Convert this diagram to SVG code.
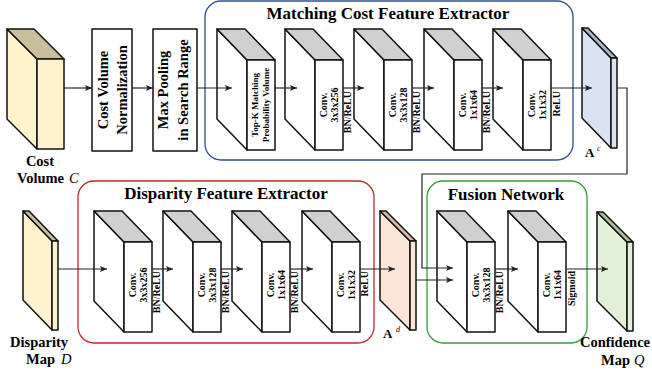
<svg xmlns="http://www.w3.org/2000/svg" width="652" height="375" viewBox="0 0 652 375">
<style>
.blk path,.blk rect{stroke:#111;stroke-width:1.5;stroke-linejoin:round}
.side{fill:#fff}.top{fill:#d0d0d0}.front{fill:#fff}
.t{font-family:"Liberation Serif",serif;font-weight:bold;fill:#000}
.s10{font-size:10px}.s9{font-size:9px}
.lbl{font-size:14.5px}
.ttl{font-size:17px;text-anchor:middle}
.con{fill:none;stroke:#222;stroke-width:1.2}
.frame{fill:none;stroke-width:1.3}
.it{font-style:italic;font-weight:normal}
</style>
<defs>
<marker id="ah" markerUnits="userSpaceOnUse" markerWidth="8" markerHeight="8" refX="7" refY="3" orient="auto">
<path d="M0,0 L7,3 L0,6 L1.5,3 Z" fill="#222"/>
</marker>
</defs>

<!-- frames -->
<g id="frames">
<rect class="frame" x="205" y="1" width="368" height="159" rx="16" stroke="#2F4F8F"/>
<rect class="frame" x="78" y="181" width="296" height="162" rx="16" stroke="#C0282D"/>
<rect class="frame" x="427" y="181" width="160" height="162" rx="16" stroke="#3A9A3A"/>
<text class="t ttl" x="388" y="19">Matching Cost Feature Extractor</text>
<text class="t ttl" x="226" y="199">Disparity Feature Extractor</text>
<text class="t ttl" x="506" y="200">Fusion Network</text>
</g>

<!-- cost volume -->
<g id="costVolume" class="blk">
<path d="M7,29 L37,59 L37,149 L7,119 Z" fill="#FFF2CC"/>
<path d="M7,29 L34,29 L64,59 L37,59 Z" fill="#CBBF9B"/>
<rect x="37" y="59" width="27" height="90" fill="#FFF2CC"/>
<text class="t lbl" x="40" y="166" text-anchor="middle" stroke="none">Cost</text>
<text class="t lbl" x="17" y="183" stroke="none">Volume <tspan class="it" x="69">C</tspan></text>
</g>

<g id="normalization" class="blk">
<rect x="92" y="29" width="40" height="122" fill="#fff"/>
<text class="t" font-size="14.5" text-anchor="middle" transform="translate(108,90) rotate(-90)" stroke="none">Cost Volume</text>
<text class="t" font-size="14.5" text-anchor="middle" transform="translate(127,90) rotate(-90)" stroke="none">Normalization</text>
</g>

<g id="maxPooling" class="blk">
<rect x="153" y="29" width="44" height="122" fill="#fff"/>
<text class="t" font-size="14.5" text-anchor="middle" transform="translate(168,90) rotate(-90)" stroke="none">Max Pooling</text>
<text class="t" font-size="14.5" text-anchor="middle" transform="translate(188,90) rotate(-90)" stroke="none">in Search Range</text>
</g>

<!-- matching cost blocks -->
<g id="topK" class="blk">
<path class="side" d="M217,29 L247,60 L247,150 L217,119 Z"/>
<path class="top" d="M217,29 L245,29 L275,60 L247,60 Z"/>
<rect class="front" x="247" y="60" width="28" height="90"/>
<text class="t s9" text-anchor="middle" transform="translate(258,105) rotate(-90)" stroke="none">Top-K Matching</text>
<text class="t s9" text-anchor="middle" transform="translate(269,105) rotate(-90)" stroke="none">Probability Volume</text>
</g>
<g id="mc1" class="blk">
<path class="side" d="M285,29 L315,60 L315,150 L285,119 Z"/>
<path class="top" d="M285,29 L313,29 L343,60 L315,60 Z"/>
<rect class="front" x="315" y="60" width="28" height="90"/>
<text class="t s10" text-anchor="middle" transform="translate(327,105) rotate(-90)" stroke="none">Conv.</text>
<text class="t s10" text-anchor="middle" transform="translate(338,105) rotate(-90)" stroke="none">3x3x256</text>
<text class="t s10" text-anchor="end" transform="translate(351,91) rotate(-90)" stroke="none">BN/ReLU</text>
</g>
<g id="mc2" class="blk">
<path class="side" d="M354,29 L384,60 L384,150 L354,119 Z"/>
<path class="top" d="M354,29 L382,29 L412,60 L384,60 Z"/>
<rect class="front" x="384" y="60" width="28" height="90"/>
<text class="t s10" text-anchor="middle" transform="translate(396,105) rotate(-90)" stroke="none">Conv.</text>
<text class="t s10" text-anchor="middle" transform="translate(407,105) rotate(-90)" stroke="none">3x3x128</text>
<text class="t s10" text-anchor="end" transform="translate(420,91) rotate(-90)" stroke="none">BN/ReLU</text>
</g>
<g id="mc3" class="blk">
<path class="side" d="M424,29 L454,60 L454,150 L424,119 Z"/>
<path class="top" d="M424,29 L452,29 L482,60 L454,60 Z"/>
<rect class="front" x="454" y="60" width="28" height="90"/>
<text class="t s10" text-anchor="middle" transform="translate(466,105) rotate(-90)" stroke="none">Conv.</text>
<text class="t s10" text-anchor="middle" transform="translate(477,105) rotate(-90)" stroke="none">1x1x64</text>
<text class="t s10" text-anchor="end" transform="translate(490,91) rotate(-90)" stroke="none">BN/ReLU</text>
</g>
<g id="mc4" class="blk">
<path class="side" d="M493,29 L523,60 L523,150 L493,119 Z"/>
<path class="top" d="M493,29 L521,29 L551,60 L523,60 Z"/>
<rect class="front" x="523" y="60" width="28" height="90"/>
<text class="t s10" text-anchor="middle" transform="translate(535,105) rotate(-90)" stroke="none">Conv.</text>
<text class="t s10" text-anchor="middle" transform="translate(546,105) rotate(-90)" stroke="none">1x1x32</text>
<text class="t s10" text-anchor="end" transform="translate(560,91) rotate(-90)" stroke="none">ReLU</text>
</g>

<g id="Ac" class="blk">
<path d="M582,28 L611,58 L611,148 L582,118 Z" fill="#DAE3F3"/>
<path d="M582,28 L588,28 L617,58 L611,58 Z" fill="#A9B6CB"/>
<rect x="611" y="58" width="6" height="90" fill="#DAE3F3"/>
<text class="t" font-size="13" x="585" y="157" stroke="none">A</text>
<text class="t it" font-size="8" x="597" y="151" stroke="none">c</text>
</g>

<!-- disparity -->
<g id="dispMap" class="blk">
<path d="M23,211 L52,241 L52,330 L23,300 Z" fill="#FFF2CC"/>
<path d="M23,211 L29,211 L58,241 L52,241 Z" fill="#CBBF9B"/>
<rect x="52" y="241" width="6" height="89" fill="#FFF2CC"/>
<text class="t lbl" x="39" y="347" text-anchor="middle" stroke="none">Disparity</text>
<text class="t lbl" x="26" y="364" stroke="none">Map <tspan class="it" x="61">D</tspan></text>
</g>
<g id="d0" class="blk">
<path class="side" d="M94,211 L124,242 L124,332 L94,301 Z"/>
<path class="top" d="M94,211 L122,211 L152,242 L124,242 Z"/>
<rect class="front" x="124" y="242" width="28" height="90"/>
<text class="t s10" text-anchor="middle" transform="translate(136,285) rotate(-90)" stroke="none">Conv.</text>
<text class="t s10" text-anchor="middle" transform="translate(147,285) rotate(-90)" stroke="none">3x3x256</text>
<text class="t s10" text-anchor="end" transform="translate(160,271) rotate(-90)" stroke="none">BN/ReLU</text>
</g>
<g id="d1" class="blk">
<path class="side" d="M163,211 L193,242 L193,332 L163,301 Z"/>
<path class="top" d="M163,211 L191,211 L221,242 L193,242 Z"/>
<rect class="front" x="193" y="242" width="28" height="90"/>
<text class="t s10" text-anchor="middle" transform="translate(205,285) rotate(-90)" stroke="none">Conv.</text>
<text class="t s10" text-anchor="middle" transform="translate(216,285) rotate(-90)" stroke="none">3x3x128</text>
<text class="t s10" text-anchor="end" transform="translate(229,271) rotate(-90)" stroke="none">BN/ReLU</text>
</g>
<g id="d2" class="blk">
<path class="side" d="M232,211 L262,242 L262,332 L232,301 Z"/>
<path class="top" d="M232,211 L260,211 L290,242 L262,242 Z"/>
<rect class="front" x="262" y="242" width="28" height="90"/>
<text class="t s10" text-anchor="middle" transform="translate(274,285) rotate(-90)" stroke="none">Conv.</text>
<text class="t s10" text-anchor="middle" transform="translate(285,285) rotate(-90)" stroke="none">1x1x64</text>
<text class="t s10" text-anchor="end" transform="translate(298,271) rotate(-90)" stroke="none">BN/ReLU</text>
</g>
<g id="d3" class="blk">
<path class="side" d="M302,211 L332,242 L332,332 L302,301 Z"/>
<path class="top" d="M302,211 L330,211 L360,242 L332,242 Z"/>
<rect class="front" x="332" y="242" width="28" height="90"/>
<text class="t s10" text-anchor="middle" transform="translate(344,285) rotate(-90)" stroke="none">Conv.</text>
<text class="t s10" text-anchor="middle" transform="translate(355,285) rotate(-90)" stroke="none">1x1x32</text>
<text class="t s10" text-anchor="end" transform="translate(368,271) rotate(-90)" stroke="none">ReLU</text>
</g>
<g id="Ad" class="blk">
<path d="M380,211 L410,241 L410,330 L380,300 Z" fill="#FBE5D6"/>
<path d="M380,211 L386,211 L416,241 L410,241 Z" fill="#D9B9A8"/>
<rect x="410" y="241" width="6" height="89" fill="#FBE5D6"/>
<text class="t" font-size="13" x="383" y="338" stroke="none">A</text>
<text class="t it" font-size="8" x="396" y="332" stroke="none">d</text>
</g>

<!-- fusion -->
<g id="f0" class="blk">
<path class="side" d="M437,211 L467,242 L467,332 L437,301 Z"/>
<path class="top" d="M437,211 L465,211 L495,242 L467,242 Z"/>
<rect class="front" x="467" y="242" width="28" height="90"/>
<text class="t s10" text-anchor="middle" transform="translate(479,285) rotate(-90)" stroke="none">Conv.</text>
<text class="t s10" text-anchor="middle" transform="translate(490,285) rotate(-90)" stroke="none">3x3x128</text>
<text class="t s10" text-anchor="end" transform="translate(503,271) rotate(-90)" stroke="none">BN/ReLU</text>
</g>
<g id="f1" class="blk">
<path class="side" d="M508,211 L538,242 L538,332 L508,301 Z"/>
<path class="top" d="M508,211 L536,211 L566,242 L538,242 Z"/>
<rect class="front" x="538" y="242" width="28" height="90"/>
<text class="t s10" text-anchor="middle" transform="translate(550,285) rotate(-90)" stroke="none">Conv.</text>
<text class="t s10" text-anchor="middle" transform="translate(561,285) rotate(-90)" stroke="none">1x1x64</text>
<text class="t s10" text-anchor="end" transform="translate(575,271) rotate(-90)" stroke="none">Sigmoid</text>
</g>
<g id="confMap" class="blk">
<path d="M597,212 L627,242 L627,331 L597,301 Z" fill="#E2F0D9"/>
<path d="M597,212 L603,212 L633,242 L627,242 Z" fill="#A9C29A"/>
<rect x="627" y="242" width="6" height="89" fill="#E2F0D9"/>
<text class="t lbl" x="615" y="347" text-anchor="middle" stroke="none">Confidence</text>
<text class="t lbl" x="601" y="365" stroke="none">Map <tspan class="it" x="634">Q</tspan></text>
</g>

<!-- connectors -->
<g id="connectors" class="con">
<path d="M64,88 H92" marker-end="url(#ah)"/>
<path d="M132,88 H153" marker-end="url(#ah)"/>
<path d="M197,88 H232" marker-end="url(#ah)"/>
<path d="M275,88 H297" marker-end="url(#ah)"/>
<path d="M343,88 H364" marker-end="url(#ah)"/>
<path d="M412,88 H434" marker-end="url(#ah)"/>
<path d="M482,88 H503" marker-end="url(#ah)"/>
<path d="M551,88 H592" marker-end="url(#ah)"/>
<path d="M617,88 H627 V174 H422 V268 H453" marker-end="url(#ah)"/>
<path d="M416,280 H453" marker-end="url(#ah)"/>
<path d="M58,269 H107" marker-end="url(#ah)"/>
<path d="M152,269 H173" marker-end="url(#ah)"/>
<path d="M221,269 H243" marker-end="url(#ah)"/>
<path d="M290,269 H313" marker-end="url(#ah)"/>
<path d="M360,269 H395" marker-end="url(#ah)"/>
<path d="M495,269 H518" marker-end="url(#ah)"/>
<path d="M566,269 H608" marker-end="url(#ah)"/>
</g>
</svg>
